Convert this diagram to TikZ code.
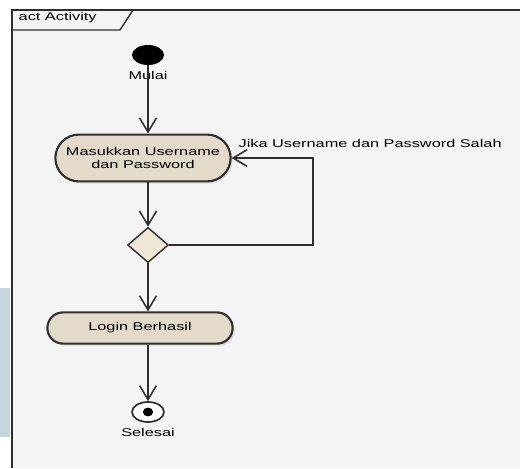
\documentclass[tikz,border=0pt]{standalone}
\usepackage{fontspec}
\setmainfont{Liberation Sans}[FakeStretch=1.45]
\usetikzlibrary{positioning,arrows.meta,shapes.geometric,shapes.misc,shadows}
\definecolor{paper1}{HTML}{F4F4F4}
\definecolor{line1}{HTML}{2E2E2E}
\definecolor{act1}{HTML}{E4DACA}
\definecolor{dec1}{HTML}{EEE8D4}
\definecolor{strip1}{HTML}{C6D6DF}

\begin{document}
\begin{tikzpicture}[x=0.025cm,y=-0.025cm,
  flow/.style={draw=line1, line width=1.1pt, -{Straight Barb[length=10pt,width=12pt,line width=1.1pt]}},
  actbox/.style={rounded rectangle, draw=line1, line width=1.5pt, fill=act1, align=center,
    font=\fontsize{8}{8.6}\selectfont, inner sep=1pt,
    drop shadow={opacity=0.2, shadow xshift=1.5pt, shadow yshift=-1.5pt}},
  lbl/.style={font=\fontsize{8}{8.6}\selectfont, inner sep=1pt}]
\useasboundingbox (0,0) rectangle (520,468);
\fill[white] (0,0) rectangle (520,468);
\fill[strip1] (0,288) rectangle (10,437);
% frame
\fill[paper1] (12,10) rectangle (520,468);
\draw[draw=line1, line width=1.3pt] (12,468) -- (12,10) -- (520,10);
\draw[draw=line1, line width=1pt] (12,30) -- (120,30) -- (133,10);
\node[lbl, anchor=west] (title) at (17,18) {act Activity};
% start and end
\node[ellipse, fill=black, minimum width=0.8cm, minimum height=0.5cm, inner sep=0pt] (start) at (148,55) {};
\node[lbl] (startlbl) at (148,75) {Mulai};
\node[actbox, minimum width=4.45cm, minimum height=1.17cm] (login) at (143,158) {Masukkan Username\\dan Password};
\node[diamond, draw=line1, line width=1pt, fill=dec1, minimum width=1.02cm, minimum height=0.88cm, inner sep=0pt] (check) at (148,245) {};
\node[actbox, minimum width=4.7cm, minimum height=0.78cm] (ok) at (140,328) {Login Berhasil};
\node[ellipse, draw=line1, line width=1.2pt, fill=white, minimum width=0.8cm, minimum height=0.5cm, inner sep=0pt] (stop) at (148,412) {};
\fill[black] (stop.center) ellipse (0.13cm and 0.11cm);
\node[lbl] (stoplbl) at (148,432) {Selesai};
% connectors
\draw[flow] (start) -- (login.north -| start);
\draw[flow] (login.south -| check) -- (check);
\draw[flow] (check.east) -- ++(144,0) |- (login.east);
\node[lbl, anchor=west] (retry) at (237,143) {Jika Username dan Password Salah};
\draw[flow] (check) -- (ok.north -| check);
\draw[flow] (ok.south -| stop) -- (stop);
\end{tikzpicture}
\end{document}
